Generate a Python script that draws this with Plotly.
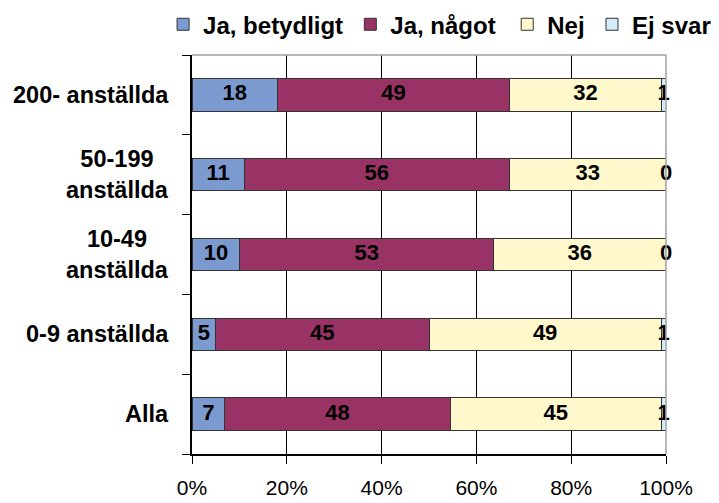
import plotly.graph_objects as go

categories = ["Alla", "0-9 anställda", "10-49<br>anställda", "50-199<br>anställda", "200- anställda"]
series_names = ["Ja, betydligt", "Ja, något", "Nej", "Ej svar"]
ja_betydligt = [7, 5, 10, 11, 18]
ja_nagot = [48, 45, 53, 56, 49]
nej = [45, 49, 36, 33, 32]
ej_svar = [1, 1, 0, 0, 1]
tick_vals = [0, 20, 40, 60, 80, 100]
tick_text = ["0%", "20%", "40%", "60%", "80%", "100%"]

colors = ["#7B9BD0", "#993366", "#FFF8CC", "#D4ECFA"]
series = [ja_betydligt, ja_nagot, nej, ej_svar]
legend_ids = ["legend", "legend2", "legend3", "legend4"]
legend_x = [-0.061, 0.334, 0.665, 1.1118]
legend_anchor = ["left", "left", "left", "right"]
legend_entrywidth = [0, 0, 0, 82]

FONT = "Liberation Sans, Arial, sans-serif"

fig = go.Figure()
for name, vals, col, lid in zip(series_names, series, colors, legend_ids):
    fig.add_trace(go.Bar(
        y=categories, x=vals, name=name, orientation="h",
        marker=dict(color=col, line=dict(color="#333333", width=1)),
        hoverinfo="skip", legend=lid,
    ))

# data labels at segment midpoints (normalized to 100%)
lab_x, lab_y, lab_t = [], [], []
for i, cat in enumerate(categories):
    total = sum(s[i] for s in series)
    cum = 0.0
    for s in series:
        v = s[i] / total * 100
        lab_x.append(cum + v / 2)
        lab_y.append(cat)
        lab_t.append(str(s[i]))
        cum += v
fig.add_trace(go.Scatter(
    x=lab_x, y=lab_y, text=lab_t, mode="text", showlegend=False,
    textfont=dict(family=FONT, size=22, color="black", weight="bold"),
    cliponaxis=False, hoverinfo="skip",
))

for cat in categories:
    fig.add_annotation(
        x=-0.044, xref="paper", y=cat, yref="y", text=cat,
        xanchor="right", yanchor="middle", align="center", showarrow=False,
        font=dict(family=FONT, size=23.5, color="black", weight="bold"),
    )

fig.add_shape(type="line", xref="paper", yref="paper", x0=0, x1=1, y0=1, y1=1,
              line=dict(color="#A0A0A0", width=1.5))
fig.add_shape(type="line", xref="paper", yref="paper", x0=1, x1=1, y0=0, y1=1,
              line=dict(color="#A0A0A0", width=1.5))

legend_style = dict(
    orientation="h", y=1.076, yanchor="middle",
    font=dict(family=FONT, size=24, color="black", weight="bold"),
    bgcolor="rgba(0,0,0,0)",
)
layout_legends = {}
for lid, lx, la, ew in zip(legend_ids, legend_x, legend_anchor, legend_entrywidth):
    d = dict(legend_style, x=lx, xanchor=la)
    if ew:
        d["entrywidth"] = ew
        d["entrywidthmode"] = "pixels"
    layout_legends[lid] = d

fig.update_layout(
    width=711, height=495,
    margin=dict(l=184, r=53, t=47, b=49, autoexpand=False),
    paper_bgcolor="white", plot_bgcolor="white",
    barmode="stack", barnorm="percent", bargap=0.595,
    font=dict(family=FONT, color="black"),
    xaxis=dict(
        range=[0, 100], tickvals=tick_vals, ticktext=tick_text,
        showgrid=True, gridcolor="black", gridwidth=1,
        showline=True, linecolor="black", linewidth=1.5,
        ticks="outside", ticklen=8, tickcolor="black",
        tickfont=dict(family=FONT, size=21, color="black"),
        ticklabelstandoff=6, zeroline=False, fixedrange=True,
        automargin=False,
    ),
    yaxis=dict(
        categoryorder="array", categoryarray=categories,
        showticklabels=False, tickson="boundaries",
        ticks="outside", ticklen=8, tickcolor="black",
        showline=True, linecolor="black", linewidth=1.5,
        showgrid=False, zeroline=False, fixedrange=True,
        automargin=False,
    ),
    **layout_legends,
)

fig.write_html("out.html")
